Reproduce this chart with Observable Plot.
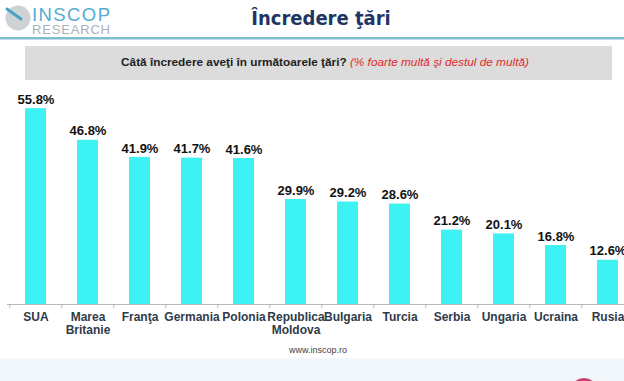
<!DOCTYPE html>
<html><head><meta charset="utf-8">
<script src="https://cdn.jsdelivr.net/npm/d3@7"></script>
<script src="https://cdn.jsdelivr.net/npm/@observablehq/plot@0.6"></script>
<style>
html,body{margin:0;padding:0;background:#fff;}
body{width:624px;height:381px;overflow:hidden;position:relative;font-family:"Liberation Sans",Arial,sans-serif;}
#chart{position:absolute;left:0;top:86px;}
#chart svg{max-width:none !important;}
.abs{position:absolute;}
</style></head><body>
<svg class="abs" style="left:0;top:0" width="624" height="381">
  <rect x="0" y="358" width="624" height="23" fill="#f1f7fa"/>
  <circle cx="584" cy="392" r="14" fill="#c7406f"/>
  <rect x="0" y="37" width="624" height="2.5" fill="#7fbccd"/>
  <rect x="25" y="46" width="587" height="34" fill="#dcdcdc"/>
  <circle cx="18" cy="18" r="12.5" fill="#cdd2d5"/>
  <line x1="7" y1="9" x2="21" y2="19" stroke="#4aa3c6" stroke-width="3" stroke-linecap="round"/>
  <text x="32" y="21" font-family="Liberation Sans" font-size="18.5" fill="#55acd0" textLength="78">INSCOP</text>
  <text x="32" y="34" font-family="Liberation Sans" font-size="13" fill="#aab1b6" textLength="78">RESEARCH</text>
  <text x="321" y="25" text-anchor="middle" font-family="'Liberation Sans Narrow','DejaVu Sans Condensed','Liberation Sans'" font-weight="bold" font-size="20" fill="#1f3564">Încredere ţări</text>
  <text x="325" y="66" text-anchor="middle" font-family="'Liberation Sans Narrow','Liberation Sans'" font-size="11.8" fill="#222"><tspan font-weight="bold">Câtă încredere aveţi în următoarele ţări? </tspan><tspan font-style="italic" fill="#e02a2a">(% foarte multă şi destul de multă)</tspan></text>
  <text x="318" y="353" text-anchor="middle" font-family="'Liberation Sans Narrow','Liberation Sans'" font-size="9" fill="#444">www.inscop.ro</text>
</svg>
<div id="chart"></div>
<script>
const countries = ["SUA","Marea\nBritanie","Franţa","Germania","Polonia","Republica\nMoldova","Bulgaria","Turcia","Serbia","Ungaria","Ucraina","Rusia"];
const values = [55.8,46.8,41.9,41.7,41.6,29.9,29.2,28.6,21.2,20.1,16.8,12.6];
const labels = ["55.8%","46.8%","41.9%","41.7%","41.6%","29.9%","29.2%","28.6%","21.2%","20.1%","16.8%","12.6%"];
const data = countries.map((c,i)=>({country:c, value:values[i], label:labels[i]}));

const chart = Plot.plot({
  width: 640, height: 270,
  marginLeft: 7, marginRight: 4, marginTop: 7, marginBottom: 52,
  style: {fontFamily: "'Liberation Sans', Arial, sans-serif", overflow: "visible", maxWidth: "none"},
  x: {domain: countries, type: "band", paddingInner: 0.6, paddingOuter: 0.3, range: [7, 636], label: null},
  y: {domain: [0, 60], range: [218, 7.4], axis: null},
  marks: [
    Plot.barY(data, {x: "country", y: "value", fill: "#3cf2f2"}),
    Plot.ruleY([0], {stroke: "#b8b8b8", strokeWidth: 1}),
    Plot.ruleX(data, {x: "country", y1: 0, y2: -1.2, dx: -26.2, stroke: "#b8b8b8"}),
    Plot.text(data, {x: "country", y: "value", text: "label", dy: -9, fill: "#111", fontWeight: "bold", fontSize: 13}),
    Plot.axisX({tickSize: 0, tickPadding: 7, fontSize: 12, fontWeight: "bold", fill: "#2f3b4a", lineHeight: 1.08, lineAnchor: "top", label: null})
  ]
});
document.getElementById("chart").appendChild(chart);
</script>
</body></html>
